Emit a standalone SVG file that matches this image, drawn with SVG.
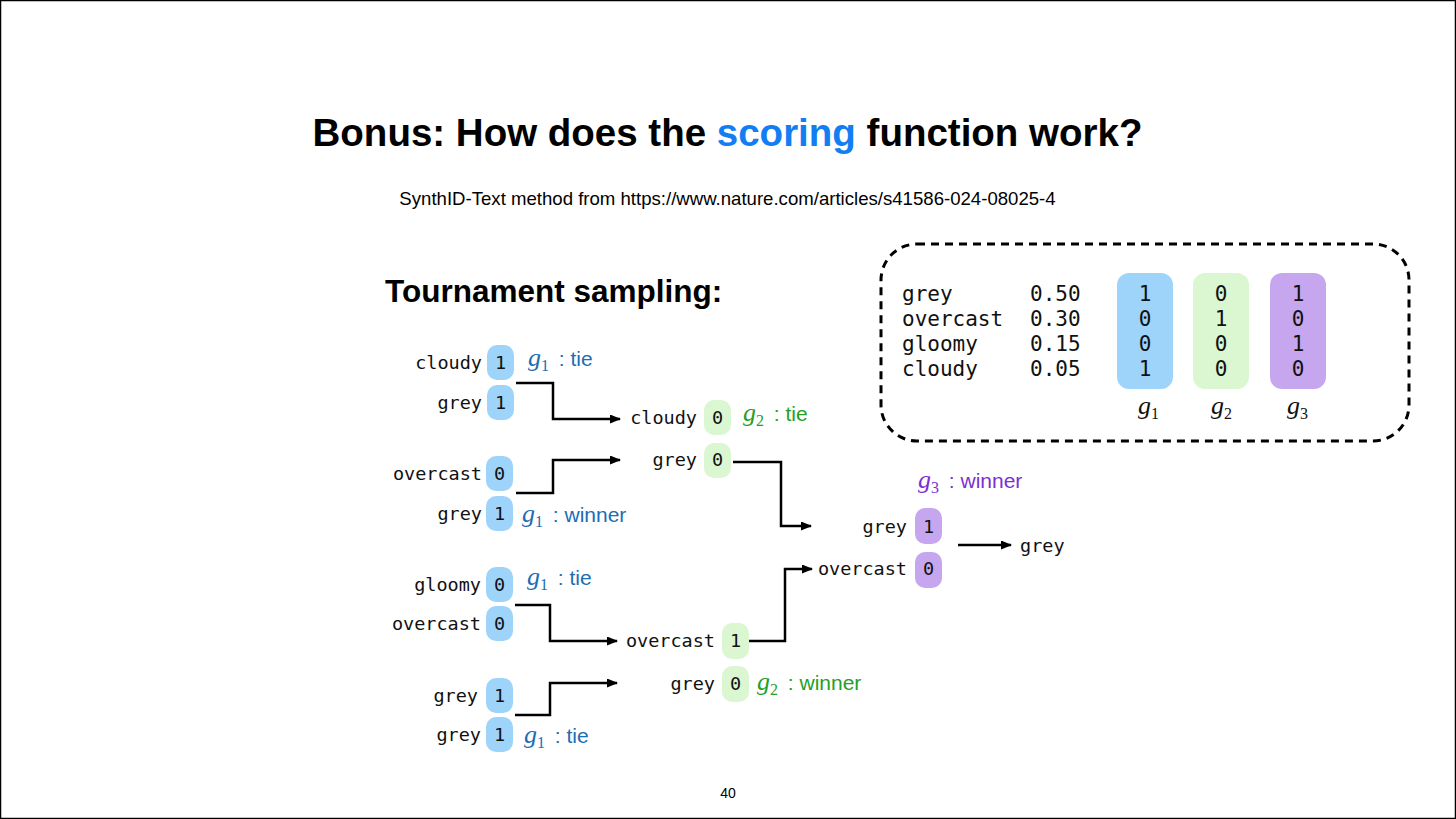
<svg xmlns="http://www.w3.org/2000/svg" width="1456" height="819" viewBox="0 0 1456 819">
<defs>
<style>
.sans{font-family:"Liberation Sans",Arial,sans-serif;}
.mono{font-family:"DejaVu Sans Mono",monospace;font-size:18.5px;fill:#111;}
.tmono{font-family:"DejaVu Sans Mono",monospace;font-size:21px;fill:#111;}
.b{fill:#9fd4fa;}
.gr{fill:#dbf7d1;}
.p{fill:#c6a7ef;}
.conn{fill:none;stroke:#000;stroke-width:2.5;}
.gi{font-family:"Liberation Serif","Times New Roman",serif;font-style:italic;}
.gs{font-family:"Liberation Serif","Times New Roman",serif;}
.lbl{font-size:21px;}
.c1{fill:#1c6db3;}
.c2{fill:#25a025;}
.c3{fill:#7a30d4;}
</style>
<marker id="ah" markerWidth="11" markerHeight="9" refX="10" refY="4.5" orient="auto" markerUnits="userSpaceOnUse">
<path d="M0,0 L11,4.5 L0,9 Z" fill="#000"/>
</marker>
</defs>
<rect x="0" y="0" width="1456" height="819" fill="#fff"/>
<rect x="0.5" y="0.5" width="1455" height="818" fill="none" stroke="#000" stroke-width="1.5"/>

<g id="title">
<text class="sans" x="727.5" y="146" font-size="38.5" font-weight="bold" text-anchor="middle" fill="#000">Bonus: How does the <tspan fill="#127ef2">scoring</tspan> function work?</text>
<text class="sans" x="727.5" y="205" font-size="18.6" text-anchor="middle" fill="#000">SynthID-Text method from https://www.nature.com/articles/s41586-024-08025-4</text>
<text class="sans" x="385" y="302" font-size="31.5" font-weight="bold" fill="#000">Tournament sampling:</text>
<text class="sans" x="728" y="798" font-size="14" text-anchor="middle" fill="#000">40</text>
</g>

<g id="connectors">
<polyline class="conn" points="516,383 553,383 553,419 620,419" marker-end="url(#ah)"/>
<polyline class="conn" points="516,493 553,493 553,460 620,460" marker-end="url(#ah)"/>
<polyline class="conn" points="515,605 550,605 550,641 617,641" marker-end="url(#ah)"/>
<polyline class="conn" points="515,715 550,715 550,683 617,683" marker-end="url(#ah)"/>
<polyline class="conn" points="733,462 781,462 781,526 811,526" marker-end="url(#ah)"/>
<polyline class="conn" points="749,641 785,641 785,569 812,569" marker-end="url(#ah)"/>
<line class="conn" x1="958" y1="545" x2="1011" y2="545" marker-end="url(#ah)"/>
</g>

<g id="r1-cloudy-grey">
<text class="mono" x="482" y="369" text-anchor="end">cloudy</text>
<rect class="b" x="487" y="345" width="27" height="35" rx="10"/>
<text class="mono" x="500.5" y="369" text-anchor="middle">1</text>
<text class="mono" x="482" y="409" text-anchor="end">grey</text>
<rect class="b" x="487" y="385" width="27" height="35" rx="10"/>
<text class="mono" x="500.5" y="409" text-anchor="middle">1</text>
<text class="sans lbl c1" x="528" y="366"><tspan class="gi" font-size="26">g</tspan><tspan class="gs" font-size="16" dy="5">1</tspan><tspan dy="-5" dx="4"> : tie</tspan></text>
</g>

<g id="r1-overcast-grey">
<text class="mono" x="482" y="480" text-anchor="end">overcast</text>
<rect class="b" x="486" y="456" width="27" height="35" rx="10"/>
<text class="mono" x="499.5" y="480" text-anchor="middle">0</text>
<text class="mono" x="482" y="520" text-anchor="end">grey</text>
<rect class="b" x="486" y="496" width="27" height="35" rx="10"/>
<text class="mono" x="499.5" y="520" text-anchor="middle">1</text>
<text class="sans lbl c1" x="522" y="522"><tspan class="gi" font-size="26">g</tspan><tspan class="gs" font-size="16" dy="5">1</tspan><tspan dy="-5" dx="4"> : winner</tspan></text>
</g>

<g id="r1-gloomy-overcast">
<text class="mono" x="481" y="591" text-anchor="end">gloomy</text>
<rect class="b" x="486" y="567" width="27" height="35" rx="10"/>
<text class="mono" x="499.5" y="591" text-anchor="middle">0</text>
<text class="mono" x="481" y="630" text-anchor="end">overcast</text>
<rect class="b" x="486" y="606" width="27" height="35" rx="10"/>
<text class="mono" x="499.5" y="630" text-anchor="middle">0</text>
<text class="sans lbl c1" x="527" y="585"><tspan class="gi" font-size="26">g</tspan><tspan class="gs" font-size="16" dy="5">1</tspan><tspan dy="-5" dx="4"> : tie</tspan></text>
</g>

<g id="r1-grey-grey">
<text class="mono" x="478" y="702" text-anchor="end">grey</text>
<rect class="b" x="486" y="678" width="27" height="35" rx="10"/>
<text class="mono" x="499.5" y="702" text-anchor="middle">1</text>
<text class="mono" x="481" y="741" text-anchor="end">grey</text>
<rect class="b" x="486" y="717" width="27" height="35" rx="10"/>
<text class="mono" x="499.5" y="741" text-anchor="middle">1</text>
<text class="sans lbl c1" x="524" y="743"><tspan class="gi" font-size="26">g</tspan><tspan class="gs" font-size="16" dy="5">1</tspan><tspan dy="-5" dx="4"> : tie</tspan></text>
</g>

<g id="r2-cloudy-grey">
<text class="mono" x="697" y="424" text-anchor="end">cloudy</text>
<rect class="gr" x="704" y="400" width="27" height="35" rx="10"/>
<text class="mono" x="717.5" y="424" text-anchor="middle">0</text>
<text class="mono" x="697" y="466" text-anchor="end">grey</text>
<rect class="gr" x="704" y="443" width="27" height="35" rx="10"/>
<text class="mono" x="717.5" y="466" text-anchor="middle">0</text>
<text class="sans lbl c2" x="743" y="421"><tspan class="gi" font-size="26">g</tspan><tspan class="gs" font-size="16" dy="5">2</tspan><tspan dy="-5" dx="4"> : tie</tspan></text>
</g>

<g id="r2-overcast-grey">
<text class="mono" x="715" y="647" text-anchor="end">overcast</text>
<rect class="gr" x="722" y="623" width="27" height="36" rx="10"/>
<text class="mono" x="735.5" y="647" text-anchor="middle">1</text>
<text class="mono" x="715" y="690" text-anchor="end">grey</text>
<rect class="gr" x="722" y="666" width="27" height="36" rx="10"/>
<text class="mono" x="735.5" y="690" text-anchor="middle">0</text>
<text class="sans lbl c2" x="757" y="690"><tspan class="gi" font-size="26">g</tspan><tspan class="gs" font-size="16" dy="5">2</tspan><tspan dy="-5" dx="4"> : winner</tspan></text>
</g>

<g id="r3-grey-overcast">
<text class="mono" x="907" y="533" text-anchor="end">grey</text>
<rect class="p" x="915" y="508" width="27" height="36" rx="10"/>
<text class="mono" x="928.5" y="533" text-anchor="middle">1</text>
<text class="mono" x="907" y="575" text-anchor="end">overcast</text>
<rect class="p" x="915" y="552" width="27" height="36" rx="10"/>
<text class="mono" x="928.5" y="575" text-anchor="middle">0</text>
<text class="sans lbl c3" x="918" y="488"><tspan class="gi" font-size="26">g</tspan><tspan class="gs" font-size="16" dy="5">3</tspan><tspan dy="-5" dx="4"> : winner</tspan></text>
</g>

<g id="result">
<text class="mono" x="1020" y="552">grey</text>
</g>

<g id="table">
<rect x="881" y="244" width="528" height="197" rx="36" fill="none" stroke="#000" stroke-width="3" stroke-dasharray="8,6"/>
<rect class="b" x="1117" y="273" width="56" height="116" rx="12"/>
<rect class="gr" x="1193" y="273" width="56" height="116" rx="12"/>
<rect class="p" x="1270" y="273" width="56" height="116" rx="12"/>
<text class="tmono" x="902" y="301">grey</text>
<text class="tmono" x="902" y="326">overcast</text>
<text class="tmono" x="902" y="351">gloomy</text>
<text class="tmono" x="902" y="376">cloudy</text>
<text class="tmono" x="1030" y="301">0.50</text>
<text class="tmono" x="1030" y="326">0.30</text>
<text class="tmono" x="1030" y="351">0.15</text>
<text class="tmono" x="1030" y="376">0.05</text>
<g class="tmono" text-anchor="middle">
<text x="1145" y="301">1</text><text x="1145" y="326">0</text><text x="1145" y="351">0</text><text x="1145" y="376">1</text>
<text x="1221" y="301">0</text><text x="1221" y="326">1</text><text x="1221" y="351">0</text><text x="1221" y="376">0</text>
<text x="1298" y="301">1</text><text x="1298" y="326">0</text><text x="1298" y="351">1</text><text x="1298" y="376">0</text>
</g>
<text x="1138" y="414" font-size="26" fill="#111"><tspan class="gi">g</tspan><tspan class="gs" font-size="16" dy="5">1</tspan></text>
<text x="1211" y="414" font-size="26" fill="#111"><tspan class="gi">g</tspan><tspan class="gs" font-size="16" dy="5">2</tspan></text>
<text x="1287" y="414" font-size="26" fill="#111"><tspan class="gi">g</tspan><tspan class="gs" font-size="16" dy="5">3</tspan></text>
</g>
</svg>
